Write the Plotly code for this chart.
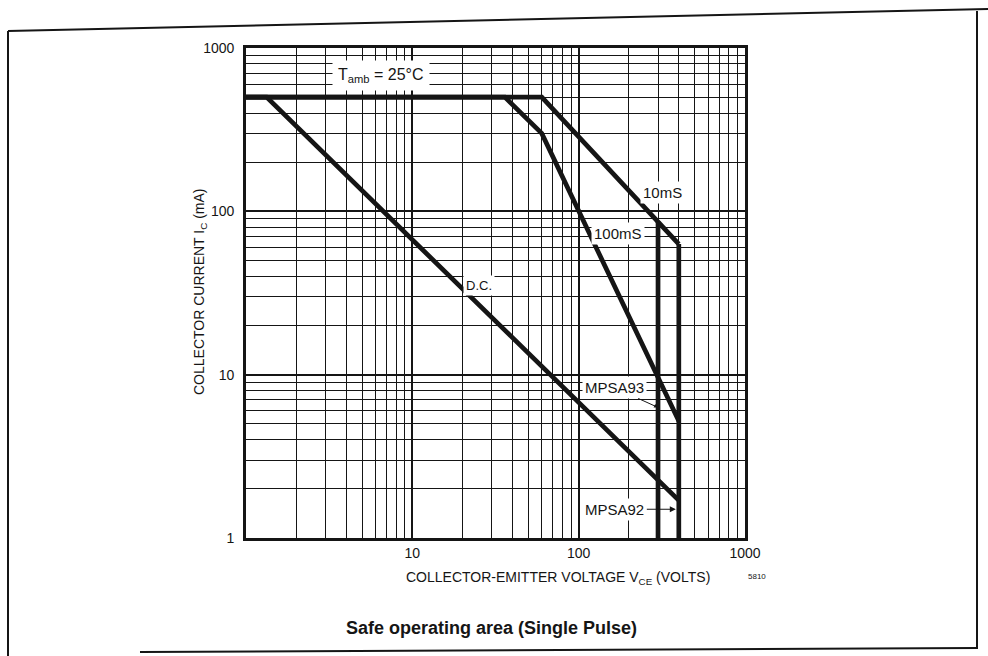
import numpy as np
import plotly.graph_objects as go

# ---- curve data (collector-emitter volts, collector mA) ----
dc_v = [1.0, 1.33, 400.0]
dc_i = [500.0, 500.0, 1.7]

ms100_v = [1.0, 36.0, 60.0, 400.0]
ms100_i = [500.0, 500.0, 300.0, 5.2]

ms10_v = [1.0, 60.0, 400.0]
ms10_i = [500.0, 500.0, 63.0]

mpsa93_v = [300.0, 300.0]
mpsa93_i = [87.0, 1.0]

mpsa92_v = [400.0, 400.0]
mpsa92_i = [63.0, 1.0]

# axis ticks
x_tickvals = [1, 10, 100, 1000]
x_ticktext = ["", "10", "100", "1000"]
y_tickvals = [1, 10, 100, 1000]
y_ticktext = ["1", "10", "100", "1000"]

# ---- page geometry (pixels) ----
W, H = 988, 656
L, R, T, B = 246, 745, 48, 538

INK = "#151515"
FONT = "Liberation Sans, Arial, Helvetica, sans-serif"


def paper(px, py):
    return (px - L) / (R - L), (B - py) / (B - T)


fig = go.Figure()

line_style = dict(color=INK, width=4.7)
for v, i in [(dc_v, dc_i), (ms100_v, ms100_i), (ms10_v, ms10_i),
             (mpsa93_v, mpsa93_i), (mpsa92_v, mpsa92_i)]:
    fig.add_trace(go.Scatter(x=v, y=i, mode="lines", line=line_style,
                             hoverinfo="skip", showlegend=False))

axis_common = dict(
    type="log",
    showgrid=True, gridcolor=INK, gridwidth=2.2,
    showline=True, linecolor=INK, linewidth=2.6, mirror=True,
    ticks="", zeroline=False,
    tickfont=dict(family=FONT, size=14, color=INK),
    minor=dict(dtick="D1", showgrid=True, gridcolor=INK, gridwidth=1.3, ticks=""),
)

fig.update_xaxes(**axis_common, range=[0, 3], tickmode="array",
                 tickvals=x_tickvals, ticktext=x_ticktext, ticklabelstandoff=0)
fig.update_yaxes(**axis_common, range=[0, 3], tickmode="array",
                 tickvals=y_tickvals, ticktext=y_ticktext, ticklabelstandoff=6)

lg = np.log10
label_font = dict(family=FONT, size=15, color=INK)

annotations = [
    dict(x=lg(6.5), y=lg(680), text="T<sub>amb</sub> = 25°C", showarrow=False,
         font=dict(family=FONT, size=16, color=INK), bgcolor="white", borderpad=5),
    dict(x=lg(320), y=lg(130), text="10mS", showarrow=False,
         font=label_font, bgcolor="white", borderpad=2),
    dict(x=lg(172), y=lg(73), text="100mS", showarrow=False,
         font=label_font, bgcolor="white", borderpad=2),
    dict(x=lg(25), y=lg(35), text="D.C.", showarrow=False,
         font=dict(family=FONT, size=13, color=INK), bgcolor="white", borderpad=2),
    dict(x=lg(300), y=lg(6.3), text="MPSA93", showarrow=True,
         ax=-44, ay=-20, arrowhead=2, arrowsize=0.8, arrowwidth=1,
         arrowcolor=INK, font=label_font, bgcolor="white", borderpad=2),
    dict(x=lg(400), y=lg(1.5), text="MPSA92", showarrow=True,
         ax=-64, ay=0, arrowhead=2, arrowsize=1, arrowwidth=1.2, standoff=3,
         arrowcolor=INK, font=label_font, bgcolor="white", borderpad=2),
]


def page_text(px_, py_, text, size, angle=0):
    a, b = paper(px_, py_)
    return dict(xref="paper", yref="paper", x=a, y=b, xanchor="center",
                yanchor="middle", text=text, textangle=angle, showarrow=False,
                font=dict(family=FONT, size=size, color=INK))


# axis titles, figure number and caption
annotations += [
    page_text(200, 292, "COLLECTOR CURRENT I<sub>C</sub> (mA)", 14, -90),
    page_text(558, 578, "COLLECTOR-EMITTER VOLTAGE V<sub>CE</sub> (VOLTS)", 14),
    page_text(757, 576, "5810", 8),
    page_text(491, 628, "<b>Safe operating area (Single Pulse)</b>", 18),
]

# outer frame of the page
frame = [((8, 31), (988, 9)), ((8, 31), (8, 656)), ((977, 11), (977, 649)),
         ((140, 652), (977, 648))]
shapes = []
for (x0, y0), (x1, y1) in frame:
    a0, b0 = paper(x0, y0)
    a1, b1 = paper(x1, y1)
    shapes.append(dict(type="line", xref="paper", yref="paper", x0=a0, y0=b0,
                       x1=a1, y1=b1, line=dict(color=INK, width=2)))

fig.update_layout(
    width=W, height=H,
    margin=dict(l=L, r=W - R, t=T, b=H - B),
    paper_bgcolor="white", plot_bgcolor="white",
    annotations=annotations, shapes=shapes,
    showlegend=False,
)

fig.write_html("out.html")
